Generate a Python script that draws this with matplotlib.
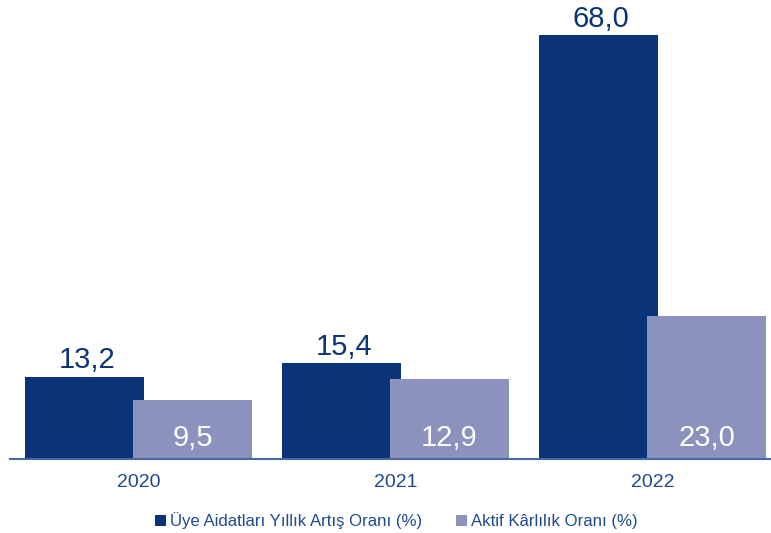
import numpy as np
import matplotlib
matplotlib.use("Agg")
from matplotlib import pyplot as plt
from matplotlib.patches import Patch

# === DATA ===
years = ["2020", "2021", "2022"]
uye_aidat = [13.2, 15.4, 68.0]
aktif_karlilik = [9.5, 12.9, 23.0]
series_names = ["Üye Aidatları Yıllık Artış Oranı (%)", "Aktif Kârlılık Oranı (%)"]

DARK = "#0a3378"
LIGHT = "#8a92bd"
TEXT_BLUE = "#1d4a92"
AXIS_BLUE = "#4a69a3"

plt.rcParams["font.family"] = ["Liberation Sans", "DejaVu Sans"]

fig = plt.figure(figsize=(7.71, 5.33), dpi=100)
ax = fig.add_axes([10 / 771, 74 / 533, 1 - 10 / 771, 459 / 533])

x = np.arange(len(years))
width = 0.463
offset = 0.42

dark_bars = ax.bar(x - offset / 2, uye_aidat, width=width, color=DARK, zorder=2)
light_bars = ax.bar(x + offset / 2, aktif_karlilik, width=width, color=LIGHT, zorder=3)

# dark values above the bars
for b, v in zip(dark_bars, uye_aidat):
    ax.annotate(f"{v:.1f}".replace(".", ","), (b.get_x() + b.get_width() / 2, v),
                xytext=(2, 6), textcoords="offset points", ha="center", va="baseline",
                fontsize=21, color=DARK)

# light values inside, near the baseline
for b, v in zip(light_bars, aktif_karlilik):
    ax.annotate(f"{v:.1f}".replace(".", ","), (b.get_x() + b.get_width() / 2, 0),
                xytext=(0, 9), textcoords="offset points", ha="center", va="baseline",
                fontsize=21, color="white", zorder=4)

ax.set_xlim(-0.5, 2.461)
ax.set_ylim(0, 73.6)
ax.set_xticks(x)
ax.set_xticklabels(years, fontsize=14, color=TEXT_BLUE)
ax.tick_params(axis="x", length=0, pad=11)
ax.set_yticks([])
for s in ["top", "right", "left"]:
    ax.spines[s].set_visible(False)
ax.spines["bottom"].set_color(AXIS_BLUE)
ax.spines["bottom"].set_linewidth(1.5)
ax.spines["bottom"].set_zorder(5)

handles = [Patch(facecolor=DARK), Patch(facecolor=LIGHT)]
leg = fig.legend(handles, series_names, loc="center", bbox_to_anchor=(0.514, 0.023),
                 ncol=2, frameon=False, fontsize=12.1, handlelength=0.65, handleheight=0.65,
                 handletextpad=0.25, columnspacing=2.0)
for t in leg.get_texts():
    t.set_color(TEXT_BLUE)

fig.savefig("out.png", dpi=100)
